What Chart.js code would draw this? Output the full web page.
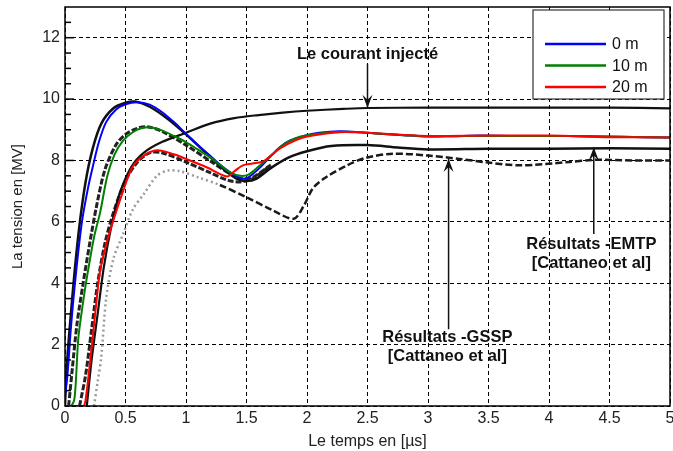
<!DOCTYPE html>
<html>
<head>
<meta charset="utf-8">
<script src="https://cdn.jsdelivr.net/npm/chart.js@4"></script>
<style>
  html, body { margin: 0; padding: 0; background: #fff; }
  #wrap { width: 673px; height: 451px; }
</style>
</head>
<body>
<div id="wrap"><canvas id="myChart" width="673" height="451"></canvas></div>
<script>
// axes
const xTicks = [0, 0.5, 1, 1.5, 2, 2.5, 3, 3.5, 4, 4.5, 5]
const yTicks = [0, 2, 4, 6, 8, 10, 12]
const legendLabels = ['0 m', '10 m', '20 m']

// simulated curves (0 m, 10 m, 20 m)
const tBlue = [0, 0.02, 0.05, 0.09, 0.14, 0.19, 0.23, 0.28, 0.34, 0.42, 0.5, 0.6, 0.7, 0.8, 0.9, 1.0, 1.1, 1.2, 1.3, 1.39, 1.46, 1.5, 1.55, 1.62, 1.69, 1.78, 1.86, 1.98, 2.1, 2.27, 2.44, 2.6, 2.8, 3.0, 3.2, 3.43, 3.7, 4.0, 4.3, 4.6, 5.0]
const vBlue = [0.3, 1.0, 2.6, 4.3, 6.0, 7.1, 7.8, 8.6, 9.25, 9.65, 9.83, 9.9, 9.82, 9.58, 9.25, 8.87, 8.5, 8.15, 7.8, 7.55, 7.42, 7.42, 7.55, 7.8, 8.1, 8.45, 8.65, 8.81, 8.9, 8.95, 8.92, 8.87, 8.82, 8.78, 8.79, 8.81, 8.8, 8.8, 8.79, 8.77, 8.75]

const tGreen = [0, 0.05, 0.08, 0.11, 0.15, 0.19, 0.24, 0.29, 0.35, 0.41, 0.48, 0.56, 0.63, 0.7, 0.8, 0.9, 1.0, 1.1, 1.2, 1.3, 1.36, 1.45, 1.52, 1.6, 1.7, 1.8, 1.9, 2.0, 2.2, 2.4, 2.6, 2.8, 3.0, 3.2, 3.43, 3.7, 4.0, 4.3, 4.6, 5.0]
const vGreen = [0, 0, 0.3, 2.2, 3.4, 4.4, 5.5, 6.3, 7.5, 8.2, 8.65, 8.92, 9.05, 9.08, 8.98, 8.8, 8.6, 8.35, 8.1, 7.8, 7.62, 7.5, 7.55, 7.8, 8.15, 8.5, 8.72, 8.82, 8.92, 8.93, 8.87, 8.82, 8.78, 8.79, 8.8, 8.8, 8.8, 8.79, 8.77, 8.75]

const tRed = [0, 0.15, 0.17, 0.22, 0.26, 0.29, 0.35, 0.4, 0.48, 0.56, 0.65, 0.76, 0.9, 1.0, 1.17, 1.34, 1.4, 1.47, 1.55, 1.64, 1.7, 1.78, 1.9, 2.0, 2.27, 2.5, 2.8, 3.0, 3.5, 4.0, 4.5, 5.0]
const vRed = [0, 0, 0.2, 1.9, 3.4, 4.4, 5.4, 6.05, 7.0, 7.8, 8.15, 8.33, 8.2, 8.05, 7.78, 7.48, 7.65, 7.84, 7.9, 7.97, 8.15, 8.4, 8.65, 8.78, 8.92, 8.9, 8.83, 8.8, 8.81, 8.81, 8.76, 8.75]

// reference curves (black)
const tEmtp0 = [0, 0.01, 0.04, 0.08, 0.12, 0.17, 0.23, 0.3, 0.4, 0.5, 0.58, 0.7, 0.85, 1.0, 1.15, 1.3, 1.42, 1.5, 1.58, 1.7, 1.85, 2.0, 2.2, 2.5, 2.75, 3.0, 3.5, 4.0, 4.5, 5.0]
const vEmtp0 = [0, 1.0, 2.6, 4.4, 5.9, 7.3, 8.4, 9.2, 9.7, 9.88, 9.92, 9.75, 9.35, 8.85, 8.3, 7.75, 7.4, 7.33, 7.4, 7.75, 8.1, 8.3, 8.47, 8.5, 8.42, 8.36, 8.38, 8.38, 8.4, 8.38]

const tEmtp10 = [0.03, 0.06, 0.1, 0.15, 0.2, 0.26, 0.33, 0.42, 0.5, 0.6, 0.68, 0.8, 1.0, 1.2, 1.35, 1.45, 1.55, 1.7]
const vEmtp10 = [0, 1.2, 2.7, 4.0, 5.2, 6.5, 7.7, 8.5, 8.85, 9.05, 9.1, 8.95, 8.5, 7.98, 7.6, 7.4, 7.45, 7.85]

const tEmtp20 = [0.12, 0.17, 0.22, 0.27, 0.33, 0.4, 0.5, 0.6, 0.7, 0.8, 1.0, 1.2, 1.35, 1.45, 1.55, 1.7]
const vEmtp20 = [0, 1.0, 2.5, 4.0, 5.3, 6.3, 7.35, 7.95, 8.25, 8.25, 7.95, 7.6, 7.35, 7.3, 7.4, 7.85]

const tCourant = [0.18, 0.22, 0.27, 0.32, 0.38, 0.45, 0.55, 0.65, 0.8, 1.0, 1.2, 1.4, 1.6, 1.8, 2.0, 2.3, 2.5, 3.0, 3.5, 4.0, 4.5, 5.0]
const vCourant = [0, 1.5, 3.0, 4.5, 5.8, 6.9, 7.8, 8.25, 8.6, 8.9, 9.2, 9.38, 9.48, 9.56, 9.62, 9.68, 9.71, 9.72, 9.72, 9.72, 9.72, 9.7]

const tGssp = [0.24, 0.27, 0.3, 0.34, 0.4, 0.48, 0.56, 0.65, 0.76, 0.85, 0.95, 1.1, 1.28, 1.5, 1.72, 1.89, 1.97, 2.05, 2.16, 2.33, 2.49, 2.71, 3.0, 3.26, 3.5, 3.76, 4.17, 4.37, 4.7, 5.0]
const vGssp = [0, 0.8, 1.6, 3.5, 4.8, 5.6, 6.4, 6.9, 7.5, 7.67, 7.65, 7.45, 7.2, 6.8, 6.37, 6.1, 6.5, 7.1, 7.46, 7.84, 8.09, 8.22, 8.16, 8.05, 7.93, 7.84, 7.95, 8.02, 8.0, 8.0]

function pts(t, v) {
    return t.map((x, i) => ({ x: x, y: v[i] }))
}

const font = "'Liberation Sans', Arial, sans-serif"

function line(label, t, v, color, width, dash) {
    return {
        label: label,
        data: pts(t, v),
        borderColor: color,
        borderWidth: width,
        borderDash: dash || [],
        pointRadius: 0,
        tension: 0.3,
        fill: false
    }
}

let gssp = line('GSSP', tGssp, vGssp, '#222', 2.5, [7, 3])
// early part of the GSSP trace is faint and dotted
gssp.segment = {
    borderColor: c => c.p0.parsed.x < 1.2 ? '#9a9a9a' : '#1a1a1a',
    borderDash: c => c.p0.parsed.x < 1.2 ? [2, 3] : [7, 3]
}

// frame, minor ticks, legend and annotations
const extras = {
    id: 'extras',
    afterDatasetsDraw(chart) {
        const ctx = chart.ctx
        const a = chart.chartArea
        const xs = chart.scales.x
        const ys = chart.scales.y
        ctx.save()
        ctx.strokeStyle = '#000'
        ctx.lineWidth = 1.5
        ctx.setLineDash([])
        ctx.strokeRect(a.left, a.top, a.right - a.left, a.bottom - a.top)

        for (let v = 0.5; v < 13; v += 0.5) {
            const y = ys.getPixelForValue(v)
            ctx.beginPath()
            ctx.moveTo(a.left, y)
            ctx.lineTo(a.left + (v % 2 === 0 ? 9 : 6), y)
            ctx.stroke()
        }

        // legend
        const lx = 533, ly = 10, lw = 131, lh = 89
        ctx.fillStyle = '#fff'
        ctx.fillRect(lx, ly, lw, lh)
        ctx.strokeStyle = '#333'
        ctx.lineWidth = 1.2
        ctx.strokeRect(lx, ly, lw, lh)
        ctx.font = '16px ' + font
        ctx.textBaseline = 'middle'
        ctx.textAlign = 'left'
        const order = [2, 1, 0]
        legendLabels.forEach((lab, i) => {
            const ds = chart.data.datasets[order[i]]
            const y = 44 + i * 21.5
            ctx.strokeStyle = ds.borderColor
            ctx.lineWidth = 2.5
            ctx.beginPath()
            ctx.moveTo(545, y)
            ctx.lineTo(606, y)
            ctx.stroke()
            ctx.fillStyle = '#111'
            ctx.fillText(lab, 612, y + 1)
        })

        // annotations
        ctx.fillStyle = '#111'
        ctx.strokeStyle = '#111'
        ctx.font = 'bold 16.5px ' + font
        ctx.textAlign = 'center'
        ctx.fillText('Le courant injecté', xs.getPixelForValue(2.5), ys.getPixelForValue(11.45))
        ctx.fillText('Résultats -EMTP', xs.getPixelForValue(4.35), ys.getPixelForValue(5.27))
        ctx.fillText('[Cattaneo et al]', xs.getPixelForValue(4.35), ys.getPixelForValue(4.65))
        ctx.fillText('Résultats -GSSP', xs.getPixelForValue(3.16), ys.getPixelForValue(2.24))
        ctx.fillText('[Cattaneo et al]', xs.getPixelForValue(3.16), ys.getPixelForValue(1.63))

        function arrow(t, vFrom, vTip) {
            const x = xs.getPixelForValue(t)
            const y0 = ys.getPixelForValue(vFrom)
            const y1 = ys.getPixelForValue(vTip)
            const dir = y1 > y0 ? 1 : -1
            ctx.lineWidth = 1.5
            ctx.beginPath()
            ctx.moveTo(x, y0)
            ctx.lineTo(x, y1)
            ctx.stroke()
            ctx.beginPath()
            ctx.moveTo(x, y1)
            ctx.lineTo(x - 5, y1 - dir * 13)
            ctx.lineTo(x, y1 - dir * 8)
            ctx.lineTo(x + 5, y1 - dir * 13)
            ctx.closePath()
            ctx.fill()
        }
        arrow(2.5, 11.15, 9.72)
        arrow(4.37, 5.6, 8.42)
        arrow(3.17, 2.5, 8.05)
        ctx.restore()
    }
}

const ctx = document.getElementById('myChart').getContext('2d')
const myChart = new Chart(ctx, {
    type: 'line',
    data: {
        datasets: [
            line('20 m', tRed, vRed, '#ff0000', 2),
            line('10 m', tGreen, vGreen, '#008000', 2),
            line('0 m', tBlue, vBlue, '#0000ff', 2),
            line('courant', tCourant, vCourant, '#111', 2.2),
            line('EMTP 0', tEmtp0, vEmtp0, '#111', 2.5),
            line('EMTP 10', tEmtp10, vEmtp10, '#222', 3, [6, 2]),
            line('EMTP 20', tEmtp20, vEmtp20, '#222', 3, [6, 2]),
            gssp
        ]
    },
    options: {
        responsive: false,
        animation: false,
        layout: { padding: { left: 0, right: 3, top: 7, bottom: 0 } },
        plugins: {
            legend: { display: false },
            tooltip: { enabled: false }
        },
        scales: {
            x: {
                type: 'linear',
                min: 0,
                max: 5,
                afterBuildTicks: s => { s.ticks = xTicks.map(v => ({ value: v })) },
                afterFit: s => { s.height = 45; s.paddingLeft = 0; s.paddingRight = 0 },
                grid: { color: '#000', lineWidth: 1, drawTicks: false },
                border: { display: false, dash: [4, 3] },
                ticks: { color: '#222', font: { family: font, size: 16 }, padding: 3, maxRotation: 0, callback: v => String(v) },
                title: { display: true, text: 'Le temps en [µs]', color: '#222', font: { family: font, size: 16 }, padding: { top: 4, bottom: 0 } }
            },
            y: {
                type: 'linear',
                min: 0,
                max: 13,
                afterBuildTicks: s => { s.ticks = yTicks.map(v => ({ value: v })) },
                afterFit: s => { s.width = 65; s.paddingTop = 0; s.paddingBottom = 0 },
                grid: { color: '#000', lineWidth: 1, drawTicks: false },
                border: { display: false, dash: [4, 3] },
                ticks: { color: '#222', font: { family: font, size: 16 }, padding: 5, callback: v => String(v) },
                title: { display: true, text: 'La tension en [MV]', color: '#222', font: { family: font, size: 15 }, padding: { top: 9, bottom: 0 } }
            }
        }
    },
    plugins: [extras]
})
</script>
</body>
</html>
